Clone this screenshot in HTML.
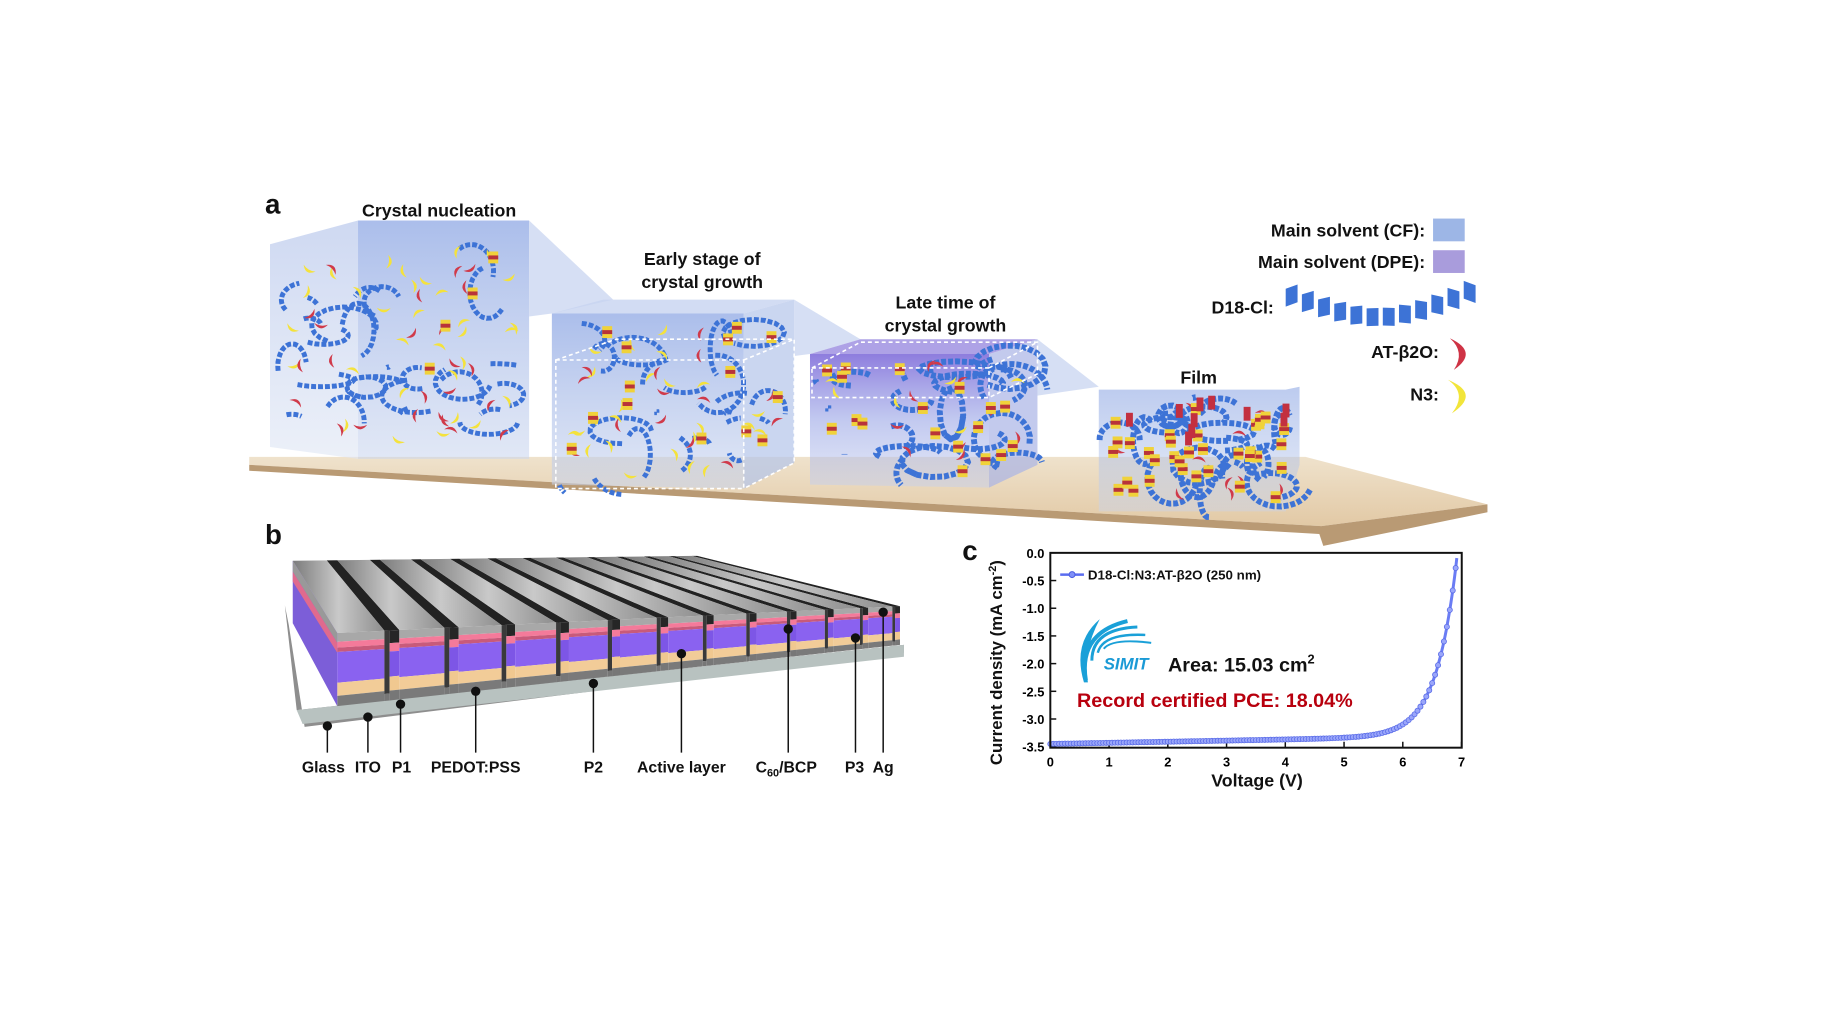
<!DOCTYPE html>
<html><head><meta charset="utf-8"><style>
html,body{margin:0;padding:0;background:#fff;}
svg{display:block;font-family:"Liberation Sans",Arial,sans-serif;}
.t{font-weight:bold;fill:#111;}
</style></head><body>
<svg id="s" width="1821" height="1024" viewBox="0 0 1821 1024" xmlns="http://www.w3.org/2000/svg">
<defs>
<linearGradient id="gB" x1="0" y1="0" x2="0" y2="1"><stop offset="0" stop-color="#8fa8e4" stop-opacity=".75"/><stop offset="1" stop-color="#c8d4ee" stop-opacity=".55"/></linearGradient>
<linearGradient id="gL" x1="0" y1="0" x2="0" y2="1"><stop offset="0" stop-color="#b9c8ec" stop-opacity=".7"/><stop offset="1" stop-color="#dfe6f4" stop-opacity=".6"/></linearGradient>
<linearGradient id="gP" x1="0" y1="0" x2="0" y2="1"><stop offset="0" stop-color="#7a66d8" stop-opacity=".85"/><stop offset=".5" stop-color="#9aa6e6" stop-opacity=".6"/><stop offset="1" stop-color="#c6d0ee" stop-opacity=".5"/></linearGradient>
<linearGradient id="gS" x1="0" y1="0" x2="1" y2="0"><stop offset="0" stop-color="#7b7b7b"/><stop offset=".5" stop-color="#c9c9c9"/><stop offset="1" stop-color="#8d8d8d"/></linearGradient>
<linearGradient id="gSub" x1="0" y1="0" x2="0" y2="1"><stop offset="0" stop-color="#efe2cc"/><stop offset="1" stop-color="#e2c9a5"/></linearGradient>
</defs>
<g transform="scale(0.989)">
<polygon points="252,462 1320,462 1504,510 1336,532 252,470" fill="url(#gSub)"/>
<polygon points="252,470 1336,532 1504,510 1504,518 1338,552 1334,540 252,476" fill="#b99a74"/>
<g id="boxes"></g>
<g id="mol"></g>
<g fill="none" stroke="#fff" stroke-width="1.6" stroke-dasharray="4,3">
<polygon points="562,364 752,364 752,494 562,494"/>
<polyline points="562,364 623,343 803,343 803,468 752,494"/>
<line x1="752" y1="364" x2="803" y2="343"/>
<polygon points="821,372 1000,372 1000,402 821,402"/>
<polyline points="821,372 870,346 1049,346 1049,378 1000,402"/>
<line x1="1000" y1="372" x2="1049" y2="346"/>
</g>
<text x="268" y="216" class="t" font-size="28">a</text>
<text x="444" y="219" class="t" font-size="18" text-anchor="middle">Crystal nucleation</text>
<text x="710" y="268" class="t" font-size="18" text-anchor="middle">Early stage of</text>
<text x="710" y="291" class="t" font-size="18" text-anchor="middle">crystal growth</text>
<text x="956" y="312" class="t" font-size="18" text-anchor="middle">Late time of</text>
<text x="956" y="335" class="t" font-size="18" text-anchor="middle">crystal growth</text>
<text x="1212" y="388" class="t" font-size="18" text-anchor="middle">Film</text>
<text x="1441" y="239" class="t" font-size="18" text-anchor="end">Main solvent (CF):</text>
<rect x="1449" y="221" width="32" height="23" fill="#9db6e6"/>
<text x="1441" y="271" class="t" font-size="18" text-anchor="end">Main solvent (DPE):</text>
<rect x="1449" y="253" width="32" height="23" fill="#a99cdc"/>
<text x="1288" y="317" class="t" font-size="18" text-anchor="end">D18-Cl:</text>
<g id="ribbon"></g>
<text x="1455" y="362" class="t" font-size="18" text-anchor="end">AT-β2O:</text>
<path d="M1466,342 Q1496,356 1470,374 Q1482,356 1466,342Z" fill="#cf3345"/>
<text x="1455" y="405" class="t" font-size="18" text-anchor="end">N3:</text>
<path d="M1464,384 Q1498,398 1468,418 Q1484,398 1464,384Z" fill="#f2e53a"/>

<text x="268" y="550" class="t" font-size="28">b</text>
<polygon points="288,612 300,718 914,652 914,660 308,735 292,632" fill="#8e8e8e"/>
<polygon points="300,718 914,652 914,664 306,732" fill="#b8c2c0"/>
<g id="dev"></g>
<g id="leads" stroke="#111" stroke-width="1.5"></g>
<g font-size="16" class="t" text-anchor="middle">
<text x="327" y="781" class="t">Glass</text>
<text x="372" y="781" class="t">ITO</text>
<text x="406" y="781" class="t">P1</text>
<text x="481" y="781" class="t">PEDOT:PSS</text>
<text x="600" y="781" class="t">P2</text>
<text x="689" y="781" class="t">Active layer</text>
<text x="795" y="781" class="t">C<tspan font-size="11" dy="4">60</tspan><tspan dy="-4">/BCP</tspan></text>
<text x="864" y="781" class="t">P3</text>
<text x="893" y="781" class="t">Ag</text>
</g>

<text x="973" y="566" class="t" font-size="28">c</text>
<g id="chart"></g>
<rect x="1062" y="559" width="416" height="197" fill="none" stroke="#111" stroke-width="2"/>
<text x="1013" y="670" class="t" font-size="17" text-anchor="middle" transform="rotate(-90 1013 670)">Current density (mA cm<tspan font-size="11" dy="-6">-2</tspan><tspan dy="6">)</tspan></text>
<text x="1271" y="795" class="t" font-size="18" text-anchor="middle">Voltage (V)</text>
<line x1="1072" y1="581" x2="1096" y2="581" stroke="#5a6cf0" stroke-width="2.5"/>
<circle cx="1084" cy="581" r="3" fill="#8090f8" stroke="#4a5ce0"/>
<text x="1100" y="586" class="t" font-size="13.5">D18-Cl:N3:AT-β2O (250 nm)</text>
<g fill="none" stroke="#1aa0d8" stroke-width="4">
<path d="M1098,688 Q1090,640 1140,628"/>
<path d="M1104,668 Q1104,636 1150,634" stroke-width="3"/>
<path d="M1110,660 Q1115,640 1158,642" stroke-width="2.5"/>
<path d="M1116,656 Q1125,645 1164,650" stroke-width="2"/>
</g>
<path d="M1096,690 Q1084,650 1112,626 Q1094,660 1100,690Z" fill="#1aa0d8"/>
<text x="1116" y="677" font-size="17" font-style="italic" font-weight="bold" fill="#1a9ad6">SIMIT</text>
<text x="1181" y="679" class="t" font-size="20">Area: 15.03 cm<tspan font-size="13" dy="-8">2</tspan></text>
<text x="1089" y="715" font-size="20" font-weight="bold" fill="#b8000e">Record certified PCE: 18.04%</text>
</g>
</svg>
<script>
const NS="http://www.w3.org/2000/svg";
function el(p,t,a){const e=document.createElementNS(NS,t);for(const k in a)e.setAttribute(k,a[k]);p.appendChild(e);return e;}
let seed=7;function r(){seed=(seed*16807)%2147483647;return seed/2147483647;}
const B=document.getElementById('boxes');
el(B,'polygon',{points:"273,247 362,223 362,464 273,452",fill:"url(#gL)"});
el(B,'polygon',{points:"362,223 535,223 535,464 362,464",fill:"url(#gB)"});
el(B,'polygon',{points:"535,223 620,303 558,317 535,320",fill:"#c4d2ef","fill-opacity":".7"});
el(B,'polygon',{points:"558,317 610,303 803,303 752,317",fill:"#c7d3f0","fill-opacity":".8"});
el(B,'polygon',{points:"558,317 752,317 752,494 558,490",fill:"url(#gB)"});
el(B,'polygon',{points:"752,317 803,303 803,468 752,494",fill:"#b4c4ea","fill-opacity":".7"});
el(B,'polygon',{points:"803,303 870,343 819,358 803,360",fill:"#c4d2ef","fill-opacity":".7"});
el(B,'polygon',{points:"819,358 870,343 1049,343 1000,358",fill:"#9a8be0","fill-opacity":".8"});
el(B,'polygon',{points:"819,358 1000,358 1000,493 819,490",fill:"url(#gP)"});
el(B,'polygon',{points:"1000,358 1049,343 1049,470 1000,493",fill:"#a9b4e6","fill-opacity":".7"});
el(B,'polygon',{points:"1049,343 1111,391 1049,400",fill:"#c4d2ef","fill-opacity":".7"});
el(B,'polygon',{points:"1111,394 1300,394 1314,391 1314,470 1300,517 1111,517",fill:"url(#gB)","fill-opacity":".8"});
const M=document.getElementById('mol');
function ribbonArc(cx,cy,rx,ry,a0,a1,w){
  const pts=[];for(let i=0;i<=16;i++){const a=a0+(a1-a0)*i/16;pts.push((cx+rx*Math.cos(a)).toFixed(1)+","+(cy+ry*Math.sin(a)).toFixed(1));}
  el(M,'polyline',{points:pts.join(" "),fill:"none",stroke:"#3d73d6","stroke-width":w,"stroke-dasharray":"5,2"});
}
function crescent(x,y,s,c){const a=r()*360;el(M,'path',{d:`M${-s},0 Q0,${s*1.3} ${s},0 Q0,${s*.5} ${-s},0Z`,fill:c,transform:`translate(${x},${y}) rotate(${a})`});}
function stack(x,y){el(M,'rect',{x:x-5,y:y-6,width:10,height:12,fill:"#f0d23a"});el(M,'rect',{x:x-5,y:y-2,width:10,height:4,fill:"#b8333a"});}
function fill(x0,y0,x1,y1,nArc,nY,nR,nS,rs,rmax){
  for(let i=0;i<nArc;i++){const cx=x0+r()*(x1-x0),cy=y0+r()*(y1-y0);ribbonArc(cx,cy,8+r()*rmax,6+r()*rmax*0.8,r()*6,r()*6+1.5+r()*2,rs);}
  for(let i=0;i<nY;i++)crescent(x0+r()*(x1-x0),y0+r()*(y1-y0),7,"#f4e23c");
  for(let i=0;i<nR;i++)crescent(x0+r()*(x1-x0),y0+r()*(y1-y0),7,"#d03a4a");
  for(let i=0;i<nS;i++)stack(x0+r()*(x1-x0),y0+r()*(y1-y0));
}
fill(295,250,520,445,26,32,24,4,5,28);
fill(575,330,790,480,22,24,14,14,5,30);
fill(835,370,1035,480,22,6,10,18,6,30);
fill(1120,410,1300,505,24,0,10,34,6,26);
for(let i=0;i<10;i++){const x=1120+r()*180,y=400+r()*40;el(M,'rect',{x:x,y:y,width:7,height:14,fill:"#c33040"});}
const R=document.getElementById('ribbon');
for(let i=0;i<12;i++){const t=i/11;const x=1300+t*180;const y=300+Math.sin(t*Math.PI)*20-(t>.5?(t-.5)*16:0);el(R,'rect',{x:x,y:y-8,width:12,height:18,fill:"#3d73d6",transform:`skewY(${(t-.5)*40})`,"transform-origin":`${x} ${y}`});}
const D=document.getElementById('dev');
function lerp(a,b,t){return [a[0]+(b[0]-a[0])*t,a[1]+(b[1]-a[1])*t];}
const FT0=[341,640],FT1=[910,613],FB0=[341,714],FB1=[910,652],BK0=[296,567],BK1=[705,562];
const N=12;let ws=[];for(let i=0;i<N;i++)ws.push(1.35-i*0.06);const tot=ws.reduce((a,b)=>a+b);
let t=0;
function band(a0,a1,b0,b1,list){for(const [a,b,c] of list){const p1=lerp(a0,b0,a),p2=lerp(a1,b1,a),p3=lerp(a1,b1,b),p4=lerp(a0,b0,b);el(D,'polygon',{points:`${p1} ${p2} ${p3} ${p4}`,fill:c});}}
for(let i=0;i<N;i++){
  const w=ws[i]/tot, g=w*0.24;
  const ta=t, tb=t+w-g; t+=w;
  const fa=lerp(FT0,FT1,ta),fb=lerp(FT0,FT1,tb),ba=lerp(BK0,BK1,ta),bb=lerp(BK0,BK1,tb);
  const la=lerp(FB0,FB1,ta),lb=lerp(FB0,FB1,tb);
  const gb=lerp(FT0,FT1,tb+g),gbb=lerp(BK0,BK1,tb+g),ga=lerp(FB0,FB1,tb+g);
  el(D,'polygon',{points:`${bb} ${gbb} ${gb} ${fb}`,fill:"#222"});
  el(D,'polygon',{points:`${ba} ${bb} ${fb} ${fa}`,fill:"url(#gS)"});
  band(fa,fb,la,lb,[[0,.12,"#a8a8a8"],[.12,.2,"#f47a9a"],[.2,.26,"#c85a7a"],[.26,.68,"#8a62f0"],[.68,.86,"#f2cc98"],[.86,1,"#7a7a7a"]]);
  // gap front: stepped lower layers
  const m1=lerp(FT0,FT1,tb+g*0.35), mm=lerp(FB0,FB1,tb+g*0.35);
  band(fb,m1,lb,mm,[[0,.9,"#3a3a3a"],[.9,1,"#777"]]);
  band(m1,gb,mm,ga,[[0,.18,"#262626"],[.18,.3,"#f47a9a"],[.3,.66,"#7d56e6"],[.66,.86,"#f0c890"],[.86,1,"#777"]]);
}
el(D,'polygon',{points:`296,567 341,640 341,714 296,630`,fill:"#7c5ed8"});
el(D,'polygon',{points:`296,567 341,640 341,650 296,578`,fill:"#999"});
el(D,'polygon',{points:`296,578 341,650 341,660 296,588`,fill:"#e06a8e"});
const L=document.getElementById('leads');
[[331,734],[372,725],[405,712],[481,699],[600,691],[689,661],[797,636],[865,645],[893,619]].forEach(([x,y])=>{el(L,'line',{x1:x,y1:y,x2:x,y2:761});el(L,'circle',{cx:x,cy:y,r:4,fill:"#111"});});
const C=document.getElementById('chart');
const X=v=>1062+v*59.4, Y=j=>559-j*56;
for(let k=0;k<=7;k++){el(C,'line',{x1:X(k),y1:756,x2:X(k),y2:750,stroke:"#111","stroke-width":1.5});const tx=el(C,'text',{x:X(k),y:775,"text-anchor":"middle","font-size":13,"font-weight":"bold"});tx.textContent=k;}
for(let k=0;k<=7;k++){const j=-k*0.5;el(C,'line',{x1:1062,y1:Y(j),x2:1068,y2:Y(j),stroke:"#111","stroke-width":1.5});const tx=el(C,'text',{x:1056,y:Y(j)+5,"text-anchor":"end","font-size":13,"font-weight":"bold"});tx.textContent=(k==0?"0.0":j.toFixed(1));}
const J=v=>-3.45+0.02*v+3.31*Math.exp((v-6.93)/0.35);
let pts=[];for(let v=0;v<=6.93;v+=0.02)pts.push(X(v).toFixed(1)+","+Y(J(v)).toFixed(1));
el(C,'polyline',{points:pts.join(" "),fill:"none",stroke:"#6a7cf4","stroke-width":3});
for(let v=0;v<=6.93;v+=0.05){el(C,'circle',{cx:X(v),cy:Y(J(v)),r:2.6,fill:"#9aa6fa",stroke:"#5a6ce8","stroke-width":.8});}
</script>
</body></html>
